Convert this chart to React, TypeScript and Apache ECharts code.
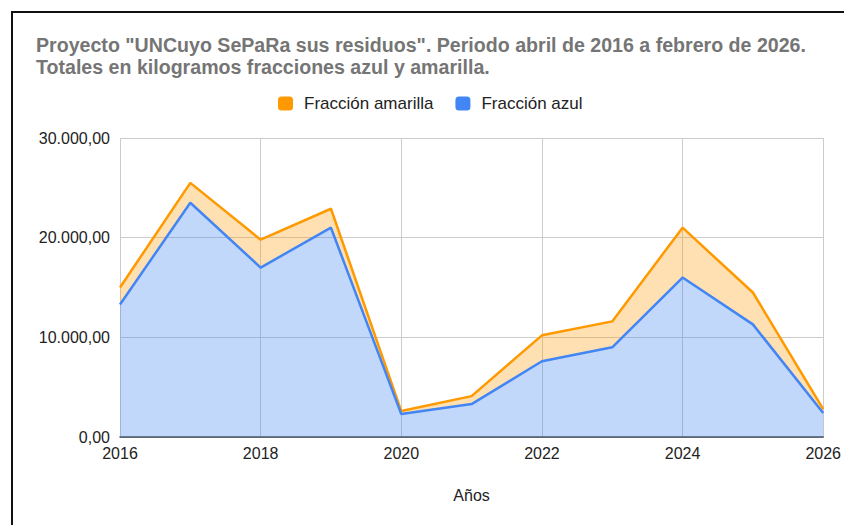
import React, { useEffect, useRef } from "react";
import * as echarts from "echarts";

const years = ["2016", "2017", "2018", "2019", "2020", "2021", "2022", "2023", "2024", "2025", "2026"];
const azul = [13300, 23500, 17000, 21000, 2300, 3300, 7600, 9000, 16000, 11300, 2400];
const amarilla = [1700, 2000, 2800, 1900, 300, 800, 2600, 2600, 5000, 3200, 400];
const titleLines = [
  'Proyecto "UNCuyo SePaRa sus residuos". Periodo abril de 2016 a febrero de 2026.',
  "Totales en kilogramos fracciones azul y amarilla.",
];
const seriesNames = ["Fracción amarilla", "Fracción azul"];
const xAxisTitle = "Años";

const fmt = (v: number) =>
  Math.round(v).toString().replace(/\B(?=(\d{3})+(?!\d))/g, ".") + ",00";

export default function App() {
  const ref = useRef<HTMLDivElement>(null);
  useEffect(() => {
    if (!ref.current) return;
    const chart = echarts.init(ref.current, null, { renderer: "svg" });
    const font = "Arial, 'Liberation Sans', sans-serif";
    chart.setOption({
      animation: false,
      textStyle: { fontFamily: font },
      title: {
        text: titleLines.join("\n"),
        left: 31,
        top: 29,
        textStyle: {
          fontFamily: font,
          fontSize: 19.6,
          fontWeight: "bold",
          color: "#757575",
          lineHeight: 22,
        },
      },
      legend: {
        data: seriesNames,
        left: 273,
        top: 90,
        itemWidth: 15,
        itemHeight: 14,
        itemGap: 22,
        icon: "roundRect",
        textStyle: { fontFamily: font, fontSize: 17, color: "#222", padding: [0, 0, 0, 6] },
      },
      grid: { left: 120, right: 19, top: 138, bottom: 88, containLabel: false },
      xAxis: {
        type: "category",
        data: years,
        boundaryGap: false,
        name: xAxisTitle,
        nameLocation: "middle",
        nameGap: 50,
        nameTextStyle: { fontFamily: font, fontSize: 16, color: "#222" },
        axisLine: { show: true, lineStyle: { color: "#444", width: 1.5 } },
        axisTick: { show: false },
        axisLabel: {
          fontFamily: font,
          fontSize: 16,
          color: "#222",
          margin: 8,
          interval: 1,
        },
        splitLine: { show: true, interval: 1, lineStyle: { color: "#cccccc", width: 1 } },
      },
      yAxis: {
        type: "value",
        min: 0,
        max: 30000,
        interval: 10000,
        axisLine: { show: false },
        axisTick: { show: false },
        axisLabel: { fontFamily: font, fontSize: 16, color: "#222", margin: 10, formatter: fmt },
        splitLine: { show: true, lineStyle: { color: "#cccccc", width: 1 } },
      },
      series: [
        {
          name: seriesNames[1],
          type: "line",
          stack: "total",
          data: azul,
          symbol: "none",
          lineStyle: { color: "#4285F4", width: 2.5 },
          itemStyle: { color: "#4285F4" },
          areaStyle: { color: "#4285F4", opacity: 0.32 },
          z: 3,
        },
        {
          name: seriesNames[0],
          type: "line",
          stack: "total",
          data: amarilla,
          symbol: "none",
          lineStyle: { color: "#FF9900", width: 2.5 },
          itemStyle: { color: "#FF9900" },
          areaStyle: { color: "#FF9900", opacity: 0.3 },
          z: 2,
        },
      ],
    });
    return () => chart.dispose();
  }, []);
  return (
    <div
      style={{
        position: "absolute",
        left: 0,
        top: 0,
        width: 844,
        height: 525,
        overflow: "hidden",
        background: "#fff",
      }}
    >
      <div
        style={{
          position: "absolute",
          left: 11,
          top: 11,
          width: 900,
          height: 600,
          border: "2px solid #111",
        }}
      />
      <div ref={ref} style={{ position: "absolute", left: 0, top: 0, width: 844, height: 525 }} />
    </div>
  );
}
